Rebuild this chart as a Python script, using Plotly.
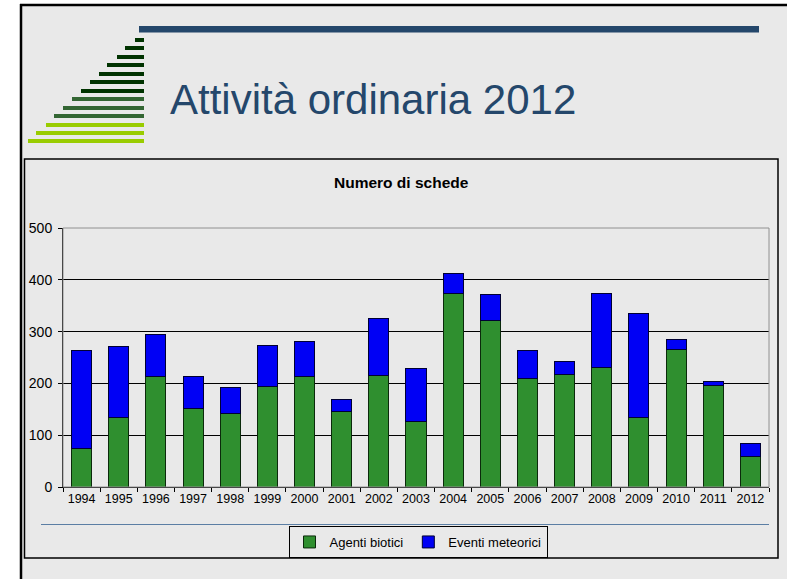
import plotly.graph_objects as go

# dati
anni = [str(a) for a in range(1994, 2013)]
agenti_biotici = [74, 134, 213, 152, 141, 194, 213, 145, 215, 127, 373, 321, 209, 217, 230, 134, 265, 195, 58]
eventi_meteorici = [189, 138, 82, 62, 51, 80, 67, 24, 110, 101, 40, 51, 54, 26, 144, 201, 19, 9, 26]

W, H = 787, 579
L, R, T, B = 63, 769, 228, 487

FONT = "Liberation Sans, Arial, sans-serif"
BG = "#e9e9e9"
BLU_TITOLO = "#24476b"


def px(x):
    return (x - L) / (R - L)


def py(y):
    return (B - y) / (B - T)


fig = go.Figure()

fig.add_trace(go.Bar(
    x=anni, y=agenti_biotici, name="Agenti biotici",
    marker=dict(color="#2f8f2f", line=dict(color="#0b2a0b", width=1)),
))
fig.add_trace(go.Bar(
    x=anni, y=eventi_meteorici, name="Eventi meteorici",
    marker=dict(color="#0000f5", line=dict(color="#000033", width=1)),
))

shapes = []
# sfondo diapositiva
shapes.append(dict(type="rect", xref="paper", yref="paper",
                   x0=px(21), x1=px(787), y0=py(5), y1=py(579),
                   fillcolor=BG, line=dict(width=0), layer="below"))
# bordo sinistro e superiore della diapositiva
shapes.append(dict(type="line", xref="paper", yref="paper",
                   x0=px(21), x1=px(21), y0=py(4), y1=py(579),
                   line=dict(color="black", width=2.5), layer="below"))
shapes.append(dict(type="line", xref="paper", yref="paper",
                   x0=px(20), x1=px(787), y0=py(5), y1=py(5),
                   line=dict(color="black", width=2.5), layer="below"))
# riquadro del grafico
shapes.append(dict(type="rect", xref="paper", yref="paper",
                   x0=px(24.5), x1=px(778), y0=py(159), y1=py(558),
                   line=dict(color="black", width=1.5), layer="below"))
# linea blu in alto
shapes.append(dict(type="rect", xref="paper", yref="paper",
                   x0=px(139), x1=px(759), y0=py(26), y1=py(32.5),
                   fillcolor=BLU_TITOLO, line=dict(width=0)))
# logo a strisce
strisce = [(38, 135, "#003300"), (46, 125, "#003300"), (55, 117, "#003300"),
           (63, 107, "#003300"), (72, 99, "#003300"), (80, 90, "#003300"),
           (89, 81, "#003300"), (97, 72, "#336633"), (106, 63, "#336633"),
           (114, 54, "#336633"), (123, 46, "#99cc00"), (131, 36, "#99cc00"),
           (139, 28, "#99cc00")]
for y0, x0, col in strisce:
    shapes.append(dict(type="rect", xref="paper", yref="paper",
                       x0=px(x0), x1=px(144), y0=py(y0), y1=py(y0 + 4),
                       fillcolor=col, line=dict(width=0)))
# bordo area del grafico (grigio)
shapes.append(dict(type="rect", xref="paper", yref="paper",
                   x0=0, x1=1, y0=0, y1=1,
                   line=dict(color="#909090", width=1)))
# linea separatrice sopra la legenda
shapes.append(dict(type="line", xref="paper", yref="paper",
                   x0=px(41), x1=px(769), y0=py(524.5), y1=py(524.5),
                   line=dict(color="#5b7ea4", width=1)))

annotations = [
    dict(text="Attività ordinaria 2012", xref="paper", yref="paper",
         x=px(168), y=py(99), xanchor="left", yanchor="middle", showarrow=False,
         font=dict(family=FONT, size=42, color=BLU_TITOLO)),
    dict(text="<b>Numero di schede</b>", xref="paper", yref="paper",
         x=px(401), y=py(183), xanchor="center", yanchor="middle", showarrow=False,
         font=dict(family=FONT, size=15.5, color="black")),
]

fig.update_layout(
    width=W, height=H, autosize=False,
    margin=dict(l=L, r=W - R, t=T, b=H - B, pad=0),
    paper_bgcolor="white",
    plot_bgcolor="rgba(0,0,0,0)",
    barmode="stack",
    bargap=0.46,
    font=dict(family=FONT, size=13, color="black"),
    shapes=shapes,
    annotations=annotations,
    showlegend=True,
    legend=dict(
        orientation="h", xref="paper", yref="paper",
        x=px(418), y=py(542), xanchor="center", yanchor="middle",
        traceorder="normal",
        bgcolor=BG, bordercolor="black", borderwidth=1,
        font=dict(family=FONT, size=13, color="black"),
        itemwidth=30, tracegroupgap=0,
    ),
)

fig.update_yaxes(
    range=[0, 500], dtick=100, showgrid=True, gridcolor="black", gridwidth=1,
    showline=True, linecolor="black", linewidth=1, ticks="outside", ticklen=4,
    tickcolor="black", zeroline=False, tickfont=dict(size=14),
    ticklabelstandoff=3,
)
fig.update_xaxes(
    showgrid=False, showline=True, linecolor="black", linewidth=1,
    ticks="outside", ticklen=4, tickcolor="black", tickson="boundaries",
    tickangle=0, tickfont=dict(size=12.5),
)

# niente margine del body, così la figura parte da (0, 0)
fig.write_html("out.html", config={"displayModeBar": False},
               post_script="document.body.style.margin='0';"
                           "document.body.style.overflow='hidden';")
